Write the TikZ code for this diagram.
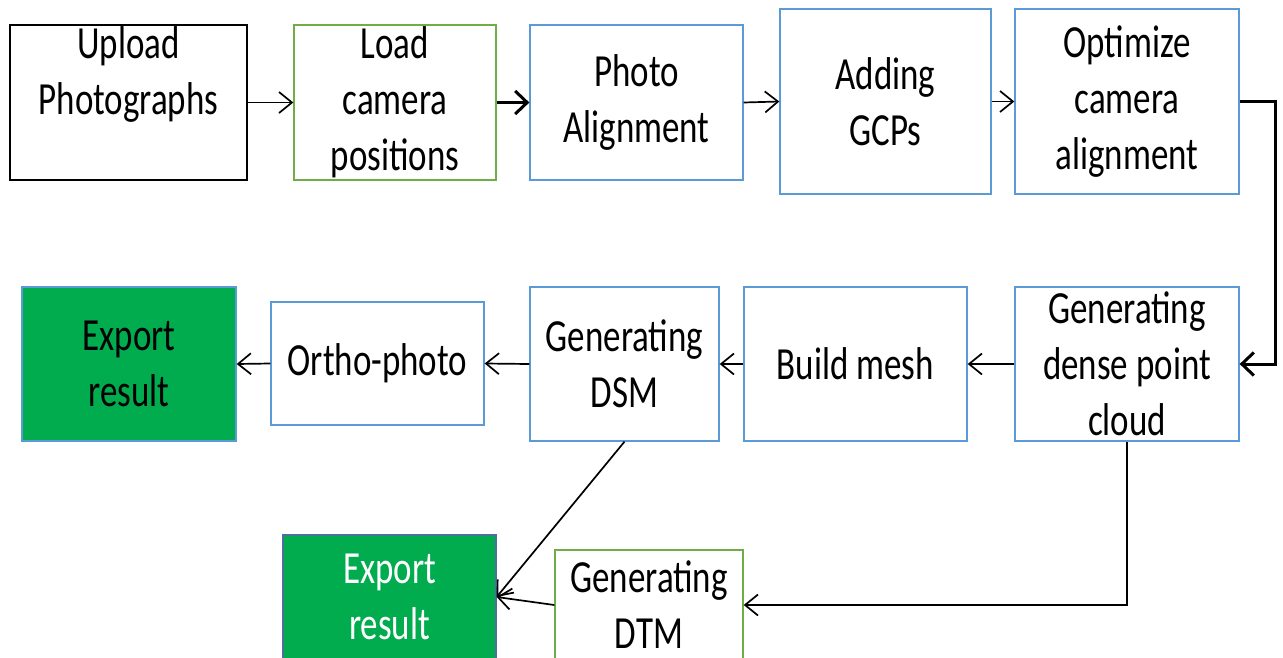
\documentclass[tikz,border=0pt]{standalone}
\usepackage{fontspec}
\setmainfont{Carlito}[FakeStretch=0.76]
\usetikzlibrary{arrows.meta}
\definecolor{boxblue}{RGB}{91,155,213}
\definecolor{boxgreen}{RGB}{112,173,71}
\definecolor{fillgreen}{RGB}{0,172,78}
\definecolor{exportline}{RGB}{79,110,160}
\tikzset{
  stepbox/.style={draw=boxblue, line width=1.3pt, fill=white, inner sep=0pt, align=center,
    font=\fontsize{46}{56}\selectfont},
  greenbox/.style={stepbox, draw=boxgreen},
  blackbox/.style={stepbox, draw=black, line width=1.8pt},
  exportbox/.style={stepbox, fill=fillgreen, draw=boxblue},
  flow/.style={line width=1.7pt, -{Straight Barb[length=13pt, width=21pt, line width=1.7pt]}},
  thickflow/.style={line width=3pt, -{Straight Barb[length=12pt, width=23pt, line width=3pt]}},
}
\begin{document}
\begin{tikzpicture}[x=1pt, y=-1pt]
\useasboundingbox (0,0) rectangle (1283,657);
\fill[white] (0,0) rectangle (1283,657);

% top row
\node[blackbox, minimum width=237pt, minimum height=155pt] (up) at (128.5,102.5) {Upload\\Photographs\\\vphantom{p}};
\node[greenbox, minimum width=202pt, minimum height=155pt] (load) at (395,102.5) {Load\\camera\\positions};
\node[stepbox, minimum width=213pt, minimum height=155pt] (photo) at (636.5,102.5) {Photo\\Alignment};
\node[stepbox, minimum width=211pt, minimum height=185pt] (gcp) at (885.5,101.5) {Adding\\GCPs};
\node[stepbox, minimum width=224pt, minimum height=185pt] (opt) at (1127,101.5) {Optimize\\camera\\alignment};

% middle row
\node[exportbox, minimum width=214pt, minimum height=154pt] (exp1) at (129,364) {Export\\result};
\node[stepbox, minimum width=213pt, minimum height=123pt] (ortho) at (377.5,363.5) {Ortho-photo};
\node[stepbox, minimum width=189pt, minimum height=154pt] (dsm) at (624.5,364) {Generating\\DSM};
\node[stepbox, minimum width=223pt, minimum height=154pt] (mesh) at (855.5,364) {Build mesh};
\node[stepbox, minimum width=224pt, minimum height=154pt] (dense) at (1127,364) {Generating\\dense point\\cloud};

% bottom row
\node[exportbox, draw=exportline, text=white, minimum width=213pt, minimum height=124pt] (exp2) at (389.5,597) {Export\\result};
\node[greenbox, minimum width=188pt, minimum height=110pt] (dtm) at (649,605) {Generating\\DTM};

% connectors
\draw[flow] (up.east) -- (load.west);
\draw[thickflow] (load.east) -- (photo.west);
\draw[flow] (photo.east) -- (gcp.west);
\draw[flow] (gcp.east) -- (opt.west);
\draw[thickflow] (opt.east) -- ++(36,0) |- (dense.east);
\draw[flow] (dense.west) -- (mesh.east);
\draw[flow] (mesh.west) -- (dsm.east);
\draw[flow] (dsm.west) -- (ortho.east);
\draw[flow] (ortho.west) -- (exp1.east);
\draw[flow] (dsm.south) -- (exp2.east);
\draw[flow] (dense.south) |- (dtm.east);
\draw[flow] (dtm.west) -- (exp2.east);
\end{tikzpicture}
\end{document}
